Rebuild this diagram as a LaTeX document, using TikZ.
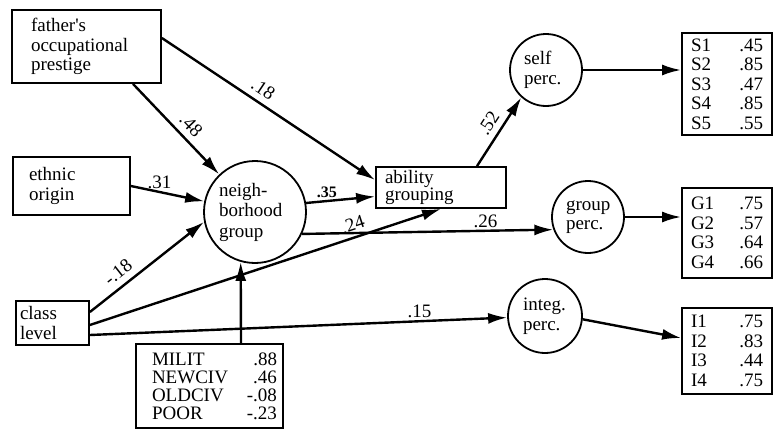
\documentclass[tikz,border=0pt]{standalone}
\usepackage{fontspec}
\setmainfont{Liberation Serif}
\usetikzlibrary{arrows.meta}
\tikzset{bx/.style={draw, line width=1.8pt, inner ysep=0pt, align=left, font=\fontsize{19pt}{19.5pt}\selectfont},
  lv/.style={draw, circle, line width=1.8pt, inner sep=0pt, align=left, font=\fontsize{19pt}{19.5pt}\selectfont},
  ar/.style={-{Latex[length=19pt,width=11pt]}, line width=2.4pt},
  w/.style={font=\fontsize{19pt}{19pt}\selectfont, inner sep=6pt}}

\begin{document}
\begin{tikzpicture}[x=1pt, y=-1pt]
    \useasboundingbox (0,0) rectangle (773,431);
    % observed causes
    \node[bx, minimum width=149pt, minimum height=73pt, inner xsep=19pt, text width=111pt](father) at (86.5, 46.5) {father\textquotesingle s\\occupational\\prestige};
    \node[bx, minimum width=117pt, minimum height=58pt, inner xsep=16pt, text width=85pt](ethnic) at (71.5, 186) {ethnic\\origin};
    \node[bx, minimum width=73pt, minimum height=44pt, inner xsep=4pt, text width=65pt](class) at (52.5, 323) {class\\level};
    \node[bx, minimum width=130pt, minimum height=41pt, inner xsep=9pt, text width=112pt, font=\fontsize{19pt}{17pt}\selectfont](ability) at (441, 187.5) {ability\\grouping};
    \node[bx, minimum width=147pt, minimum height=84pt, inner xsep=6pt, text width=135pt, font=\fontsize{19pt}{18pt}\selectfont](milit) at (209.5, 386)
      {\hspace*{10pt}MILIT\hfill .88\\\hspace*{10pt}NEWCIV\hfill .46\\\hspace*{10pt}OLDCIV\hfill -.08\\\hspace*{10pt}POOR\hfill -.23};

    % latent variables
    \node[lv, minimum size=102pt, text width=72pt, font=\fontsize{19pt}{20.5pt}\selectfont](neigh) at (255, 212) {neigh-\\borhood\\group};
    \node[lv, minimum size=72pt, text width=44pt](self) at (546, 70) {self\\perc.};
    \node[lv, minimum size=72pt, text width=44pt](group) at (588, 217) {group\\perc.};
    \node[lv, minimum size=74pt, text width=44pt](integ) at (545, 316) {integ.\\perc.};

    % indicators
    \node[bx, minimum width=90pt, minimum height=102pt, inner xsep=9pt, text width=72pt](sbox) at (727, 84)
      {S1\hfill .45\\S2\hfill .85\\S3\hfill .47\\S4\hfill .85\\S5\hfill .55};
    \node[bx, minimum width=90pt, minimum height=90pt, inner xsep=9pt, text width=72pt](gbox) at (727, 233)
      {G1\hfill .75\\G2\hfill .57\\G3\hfill .64\\G4\hfill .66};
    \node[bx, minimum width=90pt, minimum height=86pt, inner xsep=9pt, text width=72pt](ibox) at (727, 351)
      {I1\hfill .75\\I2\hfill .83\\I3\hfill .44\\I4\hfill .75};

    % paths
    \draw[ar] ([xshift=46.5pt]father.south) -- (neigh) node[w, pos=0.56, sloped, above] {.48};
    \draw[ar] ([yshift=8.5pt]father.east) -- ([yshift=7.5pt]ability.west) node[w, pos=0.44, sloped, above] {.18};
    \draw[ar] (ethnic.east) -- (neigh) node[w, pos=0.39, above, inner sep=2pt] {.31};
    \draw[ar] (neigh.10) -- ([yshift=-9pt]ability.west) node[w, pos=0.3, above, inner sep=2pt, font=\fontsize{16pt}{16pt}\selectfont\bfseries] {.35};
    \draw[ar] (neigh.-25) -- (group.200) node[w, pos=0.73, above, inner sep=2pt] {.26};
    \draw[ar] ([yshift=11pt]class.east) -- (neigh.191) node[w, pos=0.32, sloped, above] {-.18};
    \draw[ar] ([yshift=-2pt]class.east) -- (ability.south) node[w, pos=0.76, sloped, above, inner sep=5pt] {.24};
    \draw[ar] ([yshift=-12pt]class.east) -- (integ) node[w, pos=0.79, above, inner sep=2pt] {.15};
    \draw[ar] ([xshift=31.5pt]milit.north) -- (neigh.254);
    \draw[ar] ([xshift=36pt]ability.north) -- (self.228) node[w, pos=0.52, sloped, above] {.52};

    \draw[ar] (self.east) -- (self.east -| sbox.west);
    \draw[ar] (group.east) -- (group.east -| gbox.west);
    \draw[ar] (integ.-5) -- ([yshift=13pt]ibox.west);
\end{tikzpicture}
\end{document}
